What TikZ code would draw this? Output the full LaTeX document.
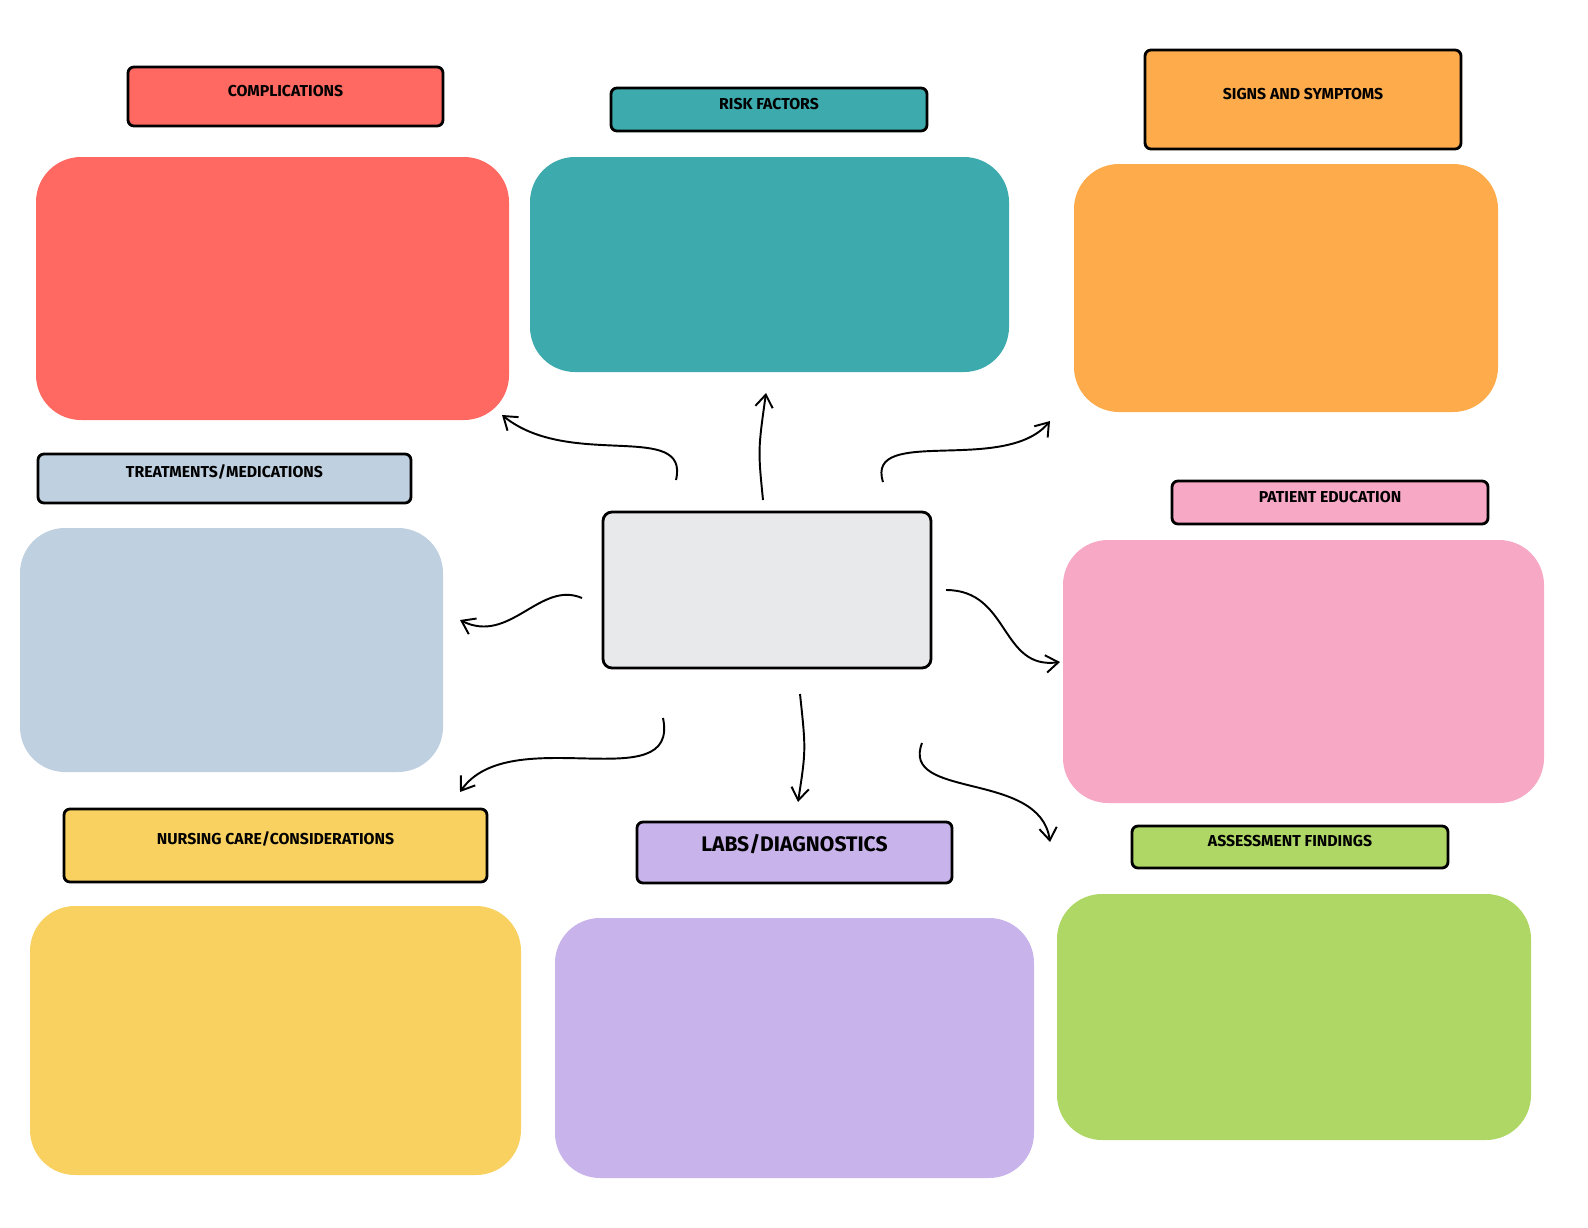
\documentclass[tikz,border=0pt]{standalone}
\usepackage{fontspec}
\setsansfont{Fira Sans}
\usetikzlibrary{fit,arrows.meta}
\definecolor{cRed}{HTML}{FF6962}
\definecolor{cTeal}{HTML}{3DABAD}
\definecolor{cOrange}{HTML}{FDAB4B}
\definecolor{cBlue}{HTML}{BFD0E0}
\definecolor{cGrey}{HTML}{E8E9EB}
\definecolor{cPink}{HTML}{F6A8C5}
\definecolor{cYellow}{HTML}{F8D160}
\definecolor{cPurple}{HTML}{C8B3EB}
\definecolor{cGreen}{HTML}{AED766}
\begin{document}
\begin{tikzpicture}[
		x=0.02cm, y=-0.02cm,
		box/.style = {inner sep=0pt, rounded corners=0.9cm},
		tag/.style = {inner sep=0pt, draw=black, line width=1.6pt, rounded corners=0.12cm,
				font=\sffamily\bfseries\small},
		link/.style = {-{Straight Barb[length=2.5mm,width=3.5mm]}, line width=1.1pt, black},
	]
	\path[use as bounding box] (0,0) rectangle (1588,1227);
	% boxes
	\node[box, fill=cRed, fit={(36,157) (509,420)}] (comp) {};
	\node[box, fill=cTeal, fit={(530,157) (1009,372)}] (risk) {};
	\node[box, fill=cOrange, fit={(1074,164) (1498,412)}] (signs) {};
	\node[box, fill=cBlue, fit={(20,528) (443,772)}] (treat) {};
	\node[box, fill=cPink, fit={(1063,540) (1544,803)}] (edu) {};
	\node[box, fill=cYellow, fit={(30,906) (521,1175)}] (nurse) {};
	\node[box, fill=cPurple, fit={(555,918) (1034,1178)}] (labs) {};
	\node[box, fill=cGreen, fit={(1057,894) (1531,1140)}] (assess) {};
	\node[tag, fill=cGrey, rounded corners=0.18cm, fit={(603,512) (931,668)}] (center) {};
	% labels
	\node[tag, fill=cRed, fit={(128,67) (443,126)}] (compT) {COMPLICATIONS};
	\node[tag, fill=cTeal, fit={(611,88) (927,131)}] (riskT) {RISK FACTORS};
	\node[tag, fill=cOrange, fit={(1145,50) (1461,149)}] (signsT) {SIGNS AND SYMPTOMS};
	\node[tag, fill=cBlue, fit={(38,454) (411,503)}] (treatT) {TREATMENTS/MEDICATIONS};
	\node[tag, fill=cPink, fit={(1172,481) (1488,524)}] (eduT) {PATIENT EDUCATION};
	\node[tag, fill=cYellow, fit={(64,809) (487,882)}] (nurseT) {NURSING CARE/CONSIDERATIONS};
	\node[tag, fill=cPurple, fit={(637,822) (952,883)}, font=\sffamily\bfseries\large] (labsT) {LABS/DIAGNOSTICS};
	\node[tag, fill=cGreen, fit={(1132,826) (1448,868)}] (assessT) {ASSESSMENT FINDINGS};
	% arrow ends
	\coordinate (s1) at (676,480); \coordinate (e1) at (502,415);
	\coordinate (s2) at (763,500); \coordinate (e2) at (766,393);
	\coordinate (s3) at (883,482); \coordinate (e3) at (1050,421);
	\coordinate (s4) at (582,598); \coordinate (e4) at (460,620);
	\coordinate (s5) at (946,590); \coordinate (e5) at (1060,662);
	\coordinate (s6) at (663,718); \coordinate (e6) at (460,792);
	\coordinate (s7) at (800,694); \coordinate (e7) at (798,802);
	\coordinate (s8) at (922,743); \coordinate (e8) at (1050,842);
	\draw[link] (s1) .. controls (690,420) and (570,470) .. (e1);
	\draw[link] (s2) .. controls (758,450) .. (e2);
	\draw[link] (s3) .. controls (865,425) and (1005,475) .. (e3);
	\draw[link] (s4) .. controls (540,580) and (510,645) .. (e4);
	\draw[link] (s5) .. controls (1010,590) and (1000,670) .. (e5);
	\draw[link] (s6) .. controls (680,800) and (510,720) .. (e6);
	\draw[link] (s7) .. controls (806,750) .. (e7);
	\draw[link] (s8) .. controls (900,800) and (1040,770) .. (e8);
\end{tikzpicture}
\end{document}
